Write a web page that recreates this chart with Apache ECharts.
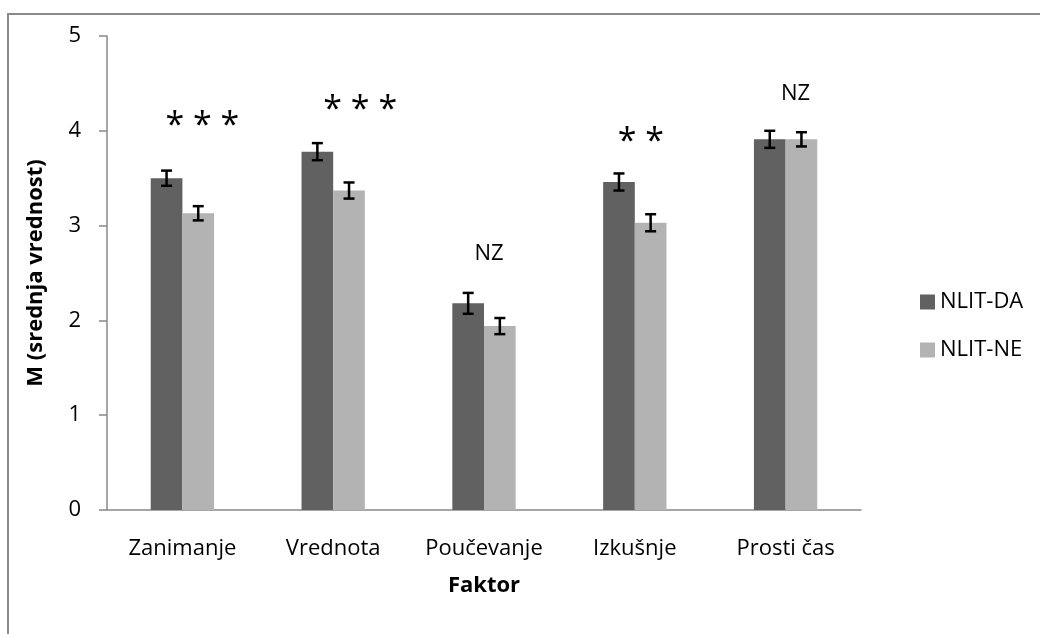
<!DOCTYPE html>
<html>
<head>
<meta charset="utf-8">
<script src="https://cdn.jsdelivr.net/npm/echarts@6/dist/echarts.min.js"></script>
<style>
html,body{margin:0;padding:0;background:#fff;}
#chart{width:1040px;height:634px;}
</style>
</head>
<body>
<div id="chart"></div>
<script>
// ---- data ----
const categories = ['Zanimanje', 'Vrednota', 'Poučevanje', 'Izkušnje', 'Prosti čas'];
const seriesNames = ['NLIT-DA', 'NLIT-NE'];
const valuesDA = [3.50, 3.78, 2.18, 3.46, 3.91];
const valuesNE = [3.13, 3.37, 1.94, 3.03, 3.91];
const errorDA = [0.08, 0.09, 0.11, 0.09, 0.09];
const errorNE = [0.075, 0.085, 0.085, 0.09, 0.075];
const annotationText = ['* * *', '* * *', 'NZ', '* *', 'NZ'];
const annotationY = [4.05, 4.22, 2.70, 3.88, 4.39];
const yTicks = [0, 1, 2, 3, 4, 5];

// ---- styling ----
const FONT = '"Open Sans", "Noto Sans", sans-serif';
const FS = 22;
const COLOR_DA = '#616161';
const COLOR_NE = '#b3b3b3';
const AXIS_COLOR = '#898989';
const BAR_RATIO = 0.21;
const annotationDx = [20, 27, 5, 6, 10];

const chart = echarts.init(document.getElementById('chart'), null, {renderer: 'canvas'});

function errorRender(values, errors, side) {
  return function (params, api) {
    const i = api.value(0);
    const v = values[i], e = errors[i];
    const bandW = api.size([1, 0])[0];
    const bw = bandW * BAR_RATIO;
    const center = api.coord([i, 0])[0] + side * bw / 2;
    const top = api.coord([i, v + e])[1];
    const bot = api.coord([i, v - e])[1];
    const cap = 5.5;
    const style = {stroke: '#000', lineWidth: 2.5};
    return {
      type: 'group',
      children: [
        {type: 'line', shape: {x1: center, y1: top, x2: center, y2: bot}, style},
        {type: 'line', shape: {x1: center - cap, y1: top, x2: center + cap, y2: top}, style},
        {type: 'line', shape: {x1: center - cap, y1: bot, x2: center + cap, y2: bot}, style}
      ]
    };
  };
}

const option = {
  animation: false,
  backgroundColor: '#fff',
  graphic: [{
    type: 'rect',
    shape: {x: 8, y: 14, width: 1200, height: 800},
    style: {fill: 'none', stroke: '#8a8a8a', lineWidth: 2},
    silent: true
  }],
  grid: {left: 107, top: 36, right: 179, bottom: 124, containLabel: false},
  legend: {
    orient: 'vertical',
    left: 915,
    top: 286,
    itemWidth: 15,
    itemHeight: 15,
    itemGap: 26,
    icon: 'rect',
    data: seriesNames,
    textStyle: {fontFamily: FONT, fontSize: FS, color: '#000', lineHeight: 22, padding: [0, 0, 0, 0]}
  },
  xAxis: {
    type: 'category',
    data: categories,
    name: 'Faktor',
    nameLocation: 'middle',
    nameGap: 65,
    nameTextStyle: {fontFamily: FONT, fontSize: FS, fontWeight: 'bold', color: '#000'},
    axisLine: {show: true, lineStyle: {color: AXIS_COLOR, width: 1.5}},
    axisTick: {show: false},
    axisLabel: {fontFamily: FONT, fontSize: FS, color: '#000', margin: 28, interval: 0, hideOverlap: false}
  },
  yAxis: {
    type: 'value',
    min: 0,
    max: 5,
    interval: 1,
    name: 'M (srednja vrednost)',
    nameLocation: 'middle',
    nameGap: 60,
    nameTextStyle: {fontFamily: FONT, fontSize: FS, fontWeight: 'bold', color: '#000'},
    axisLine: {show: true, lineStyle: {color: AXIS_COLOR, width: 1.5}},
    axisTick: {show: true, length: 8, lineStyle: {color: AXIS_COLOR, width: 1.5}},
    splitLine: {show: false},
    axisLabel: {
      fontFamily: FONT, fontSize: FS, color: '#000', margin: 26,
      formatter: function (v) { return yTicks.indexOf(v) >= 0 ? String(v) : ''; }
    }
  },
  series: [
    {
      name: seriesNames[0], type: 'bar', data: valuesDA,
      barWidth: (BAR_RATIO * 100) + '%', barGap: '0%',
      itemStyle: {color: COLOR_DA}
    },
    {
      name: seriesNames[1], type: 'bar', data: valuesNE,
      barWidth: (BAR_RATIO * 100) + '%', barGap: '0%',
      itemStyle: {color: COLOR_NE}
    },
    {
      type: 'custom', renderItem: errorRender(valuesDA, errorDA, -1),
      data: categories.map((c, i) => [i]), z: 10, silent: true
    },
    {
      type: 'custom', renderItem: errorRender(valuesNE, errorNE, 1),
      data: categories.map((c, i) => [i]), z: 10, silent: true
    },
    {
      type: 'custom',
      silent: true,
      z: 10,
      data: categories.map((c, i) => [i, annotationY[i]]),
      renderItem: function (params, api) {
        const i = api.value(0);
        const p = api.coord([i, api.value(1)]);
        const isStar = annotationText[i].indexOf('*') >= 0;
        return {
          type: 'text',
          x: p[0] + annotationDx[i],
          y: p[1],
          style: {
            text: annotationText[i],
            fontFamily: FONT,
            fontSize: isStar ? 34 : FS,
            fill: '#000',
            align: 'center',
            verticalAlign: 'middle'
          }
        };
      }
    }
  ]
};
chart.setOption(option);
</script>
</body>
</html>
